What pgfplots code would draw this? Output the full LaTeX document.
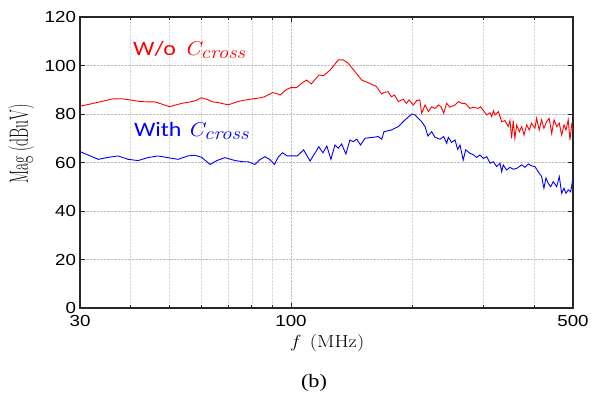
\documentclass[border=0pt]{standalone}
\usepackage{fontspec}
\usepackage{graphicx}
\usepackage{pgfplots}
\usepackage{pgfplotstable}
\pgfplotsset{compat=1.18}
\setmainfont{Liberation Sans}[FakeStretch=1.17]
\newfontfamily\lmr{Latin Modern Roman}[FakeStretch=1.17]
\newfontfamily\lmrplain{Latin Modern Roman}
\newfontfamily\calfont{Carlito}[FakeStretch=1.17]
\newfontfamily\timesf{Liberation Serif}[FakeStretch=1.17]

\pgfplotstableread{
f v
30 83.2
32 84.2
34 85.2
36 86.2
38 86.3
40 85.8
42 85.2
44 85.0
46 85.0
48 84.0
50 83.0
52 83.8
54 84.5
56 84.9
58 85.5
60 86.7
62 86.0
64 85.0
66 84.7
68 84.2
70 83.8
72 84.5
74 85.2
76 85.6
78 85.9
80 86.2
82 86.4
84 86.7
86 87.1
88 88.0
90 88.8
92 88.5
94 87.8
96 89.2
98 90.3
100 90.9
103.3 90.9
106 92.5
109.3 94.0
112.3 92.4
117.3 96.1
120.4 95.8
125 98.1
131 102.3
134.8 102.3
138.7 100.9
144 97.5
149.7 94.0
155.4 92.9
163 91.3
167.7 88.2
170 88.9
174 89.2
177.4 87.1
180.5 87.8
184.5 85.1
189.8 86.1
193.2 84.4
196.1 85.8
201 83.7
204.9 85.5
208.6 85.8
210.8 80.3
214.9 83.7
219.1 81.0
223.2 83.0
227.5 82.3
231.8 83.7
235.4 83.0
239 80.3
243.2 84.4
247.6 82.8
255 83.7
259.9 85.1
264.9 84.4
270 84.4
277.8 82.3
283.1 82.8
291.2 82.3
295 83.0
299.6 81.5
305.6 79.6
311.4 80.5
314.5 78.9
317.4 81.4
320.4 79.6
326.5 81.0
332.9 76.8
339.1 77.3
345.5 74.8
349 77.3
352.3 70.0
355.6 77.3
358.9 70.0
362.7 75.5
368.1 72.7
373.2 74.8
378.1 71.3
383.9 75.5
389.6 73.4
394.8 76.2
402.3 74.1
406.2 78.2
412.3 73.4
418 77.6
423.5 74.1
430 76.8
436.4 78.2
442.8 72.0
448.7 77.6
455.6 74.8
462.3 76.2
468.7 71.3
474.9 75.5
480.3 73.4
486.6 77.6
491.4 69.3
496.2 75.5
500 73.4
}\redtab

\pgfplotstableread{
f v
30 64.5
31.4 63.1
33.3 61.3
35.2 62.1
37.3 62.7
39.5 61.3
41.8 60.8
44.2 62.0
46.8 62.7
49.6 62.0
52.5 61.3
55.5 62.7
57.8 63.0
60.1 62.1
63.0 59.2
65.5 60.8
68.6 62.0
72.7 60.8
76.2 60.3
78.4 60.3
81.4 59.2
83.8 61.2
86.2 62.4
88.7 61.2
91.0 59.2
93.1 62.4
95.3 64.0
97.8 62.7
100.8 62.7
103.6 62.7
107.5 65.2
111.5 60.6
114.8 64.0
117.2 66.5
120.0 64.0
122.7 66.8
125.6 61.3
128.5 67.2
131.0 65.9
133.5 67.6
136.8 63.5
140.0 69.3
142.6 68.6
145.5 69.6
148.8 67.2
152.5 70.0
160 70.4
164.6 70.7
167.9 69.6
170 72.7
177.4 73.4
184.5 74.8
191.5 77.5
199.3 80.0
203 79.6
210.8 76.8
214.9 74.8
218.5 70.9
223.2 72.7
227.5 70.4
234.2 69.6
239 70.7
243.2 67.9
245.4 70.4
250.1 68.3
255 69.3
258.9 65.4
262.4 67.2
267.2 61.0
271 65.2
277.8 63.8
283.1 63.2
288.5 62.1
294.2 63.1
299.6 61.7
305.6 62.4
311.4 59.7
317.4 60.3
323.5 58.3
329.6 59.7
332.9 56.2
335.8 59.0
342.2 56.9
349 58.0
355.6 57.2
362.7 57.6
373.2 59.0
380.2 58.0
387.3 59.4
394.8 58.6
402.3 58.3
410 56.2
418 54.2
423.5 49.4
428.4 53.6
434 51.4
440.2 50.0
446.8 52.1
455.6 50.0
462.3 54.2
468.7 47.3
474.9 49.4
480.3 47.3
486.6 48.7
493.3 47.9
500 53.6
}\bluetab

\begin{document}
\begin{tikzpicture}
\useasboundingbox (-80pt,-93pt) rectangle (518pt,308pt);
\begin{axis}[
  at={(0pt,0pt)}, anchor=south west,
  scale only axis, width=493pt, height=291pt,
  xmode=log, xmin=30, xmax=500, ymin=0, ymax=120,
  xtick={30,100,500}, xticklabels={30,100,500},
  minor xtick={40,50,60,70,80,90,200,300,400},
  ytick={0,20,40,60,80,100,120},
  tick align=inside,
  major tick length=5pt, minor tick length=3pt,
  xmajorgrids, xminorgrids, ymajorgrids,
  major grid style={densely dotted, black!26, line width=0.7pt},
  minor grid style={densely dotted, black!15, line width=0.6pt},
  axis line style={black!85, line width=1.1pt},
  every tick/.style={black!85, line width=0.8pt},
  ticklabel style={font=\fontsize{16}{16}\selectfont},
  /pgf/number format/assume math mode=true,
  xticklabel style={yshift=-4pt},
  yticklabel style={xshift=-0.5pt},
  xlabel={{\lmr\fontsize{17.5}{17.5}\selectfont\itshape f\upshape\hspace{12pt}(MHz)}},
  xlabel style={at={(rel axis cs:0.503,-0.122)}, anchor=center},
  ylabel={\scalebox{1}[1.7]{\lmrplain\fontsize{15.5}{15.5}\selectfont Mag (dBuV)}},
  ylabel style={at={(rel axis cs:-0.119,0.564)}, anchor=center},
]
\addplot[red, line width=0.9pt] table[x=f, y=v] {\redtab};
\addplot[blue, line width=0.9pt] table[x=f, y=v] {\bluetab};
\node[anchor=base west, inner sep=0pt, text=red, font=\calfont\fontsize{20.5}{20.5}\selectfont]
  at (axis cs:40.6,104.3) {W/o\hspace{0.4em}{\lmr\itshape\fontsize{20}{20}\selectfont C\raisebox{-3pt}{\fontsize{18}{18}\selectfont cross}}};
\node[anchor=base west, inner sep=0pt, text=blue, font=\calfont\fontsize{20.5}{20.5}\selectfont]
  at (axis cs:40.8,70.6) {With\hspace{0.3em}{\lmr\itshape\fontsize{20}{20}\selectfont C\raisebox{-3pt}{\fontsize{18}{18}\selectfont cross}}};
\end{axis}
\node[font=\timesf\fontsize{19}{19}\selectfont] at (234pt,-75pt) {(b)};
\end{tikzpicture}
\end{document}
